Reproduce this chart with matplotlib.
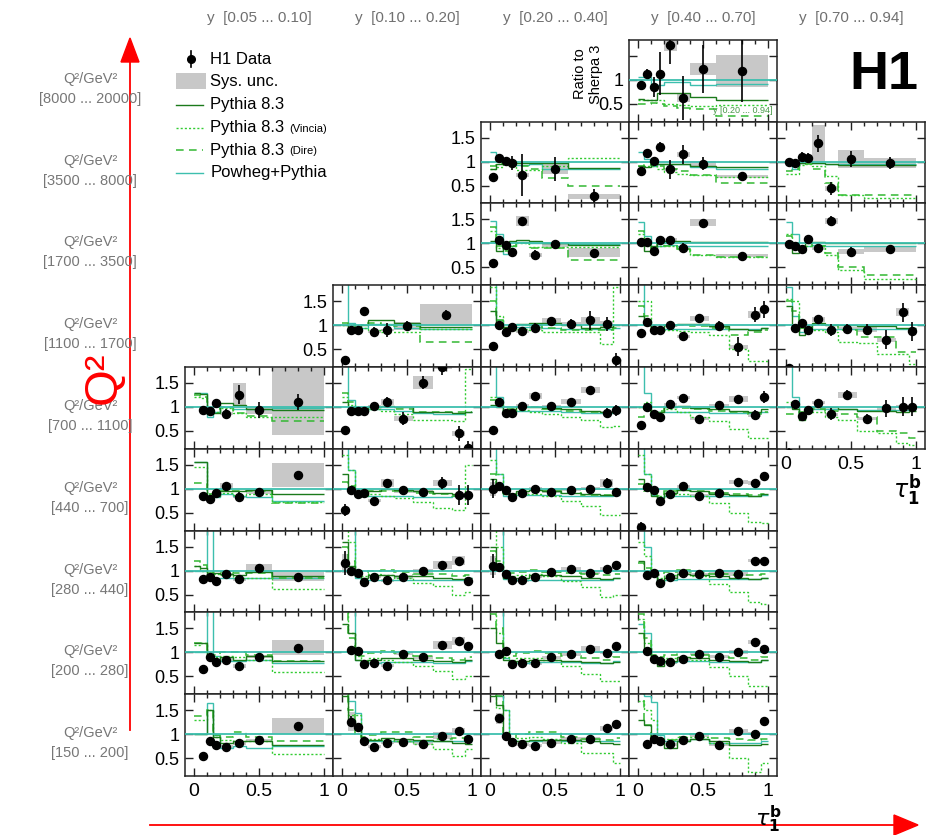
import numpy as np
import matplotlib
matplotlib.use("Agg")
import matplotlib.pyplot as plt
from matplotlib.patches import Rectangle, Polygon
from matplotlib.lines import Line2D

plt.rcParams['font.family'] = ['Liberation Sans', 'DejaVu Sans']
plt.rcParams['mathtext.fontset'] = 'dejavusans'

nan = np.nan

# tau_1^b bin edges (coarse and fine binning)
edges_coarse = [0.0, 0.05, 0.1, 0.15, 0.2, 0.3, 0.4, 0.6, 1.0]
edges_fine = [0.0, 0.05, 0.1, 0.15, 0.2, 0.3, 0.4, 0.55, 0.7, 0.85, 0.95, 1.0]

y_bins = ["y  [0.05 ... 0.10]", "y  [0.10 ... 0.20]", "y  [0.20 ... 0.40]",
          "y  [0.40 ... 0.70]", "y  [0.70 ... 0.94]"]
q2_bins = ["[8000 ... 20000]", "[3500 ... 8000]", "[1700 ... 3500]", "[1100 ... 1700]",
           "[700 ... 1100]", "[440 ... 700]", "[280 ... 440]", "[200 ... 280]", "[150 ... 200]"]

# (Q2 row, y column, binning)
panels = [(0, 3, 'c'),
          (1, 2, 'c'), (1, 3, 'c'), (1, 4, 'c'),
          (2, 2, 'c'), (2, 3, 'c'), (2, 4, 'c'),
          (3, 1, 'c'), (3, 2, 'f'), (3, 3, 'f'), (3, 4, 'f'),
          (4, 0, 'c'), (4, 1, 'f'), (4, 2, 'f'), (4, 3, 'f'), (4, 4, 'f'),
          (5, 0, 'c'), (5, 1, 'f'), (5, 2, 'f'), (5, 3, 'f'),
          (6, 0, 'c'), (6, 1, 'f'), (6, 2, 'f'), (6, 3, 'f'),
          (7, 0, 'c'), (7, 1, 'f'), (7, 2, 'f'), (7, 3, 'f'),
          (8, 0, 'c'), (8, 1, 'f'), (8, 2, 'f'), (8, 3, 'f')]

h1_data = [
    [0.9, 1.13, 0.85, 1.13, 1.72, 0.62, 1.22, 1.19],
    [0.68, 1.07, 1.01, 0.97, 0.72, nan, 0.85, 0.28],
    [0.81, 1.17, 1.01, 1.31, 0.84, 1.15, 0.96, 0.69],
    [1.0, 0.98, 1.1, 1.07, 1.38, 0.44, 1.05, 0.97],
    [0.6, 1.07, 0.97, 0.83, 1.47, 0.76, 0.98, 0.81],
    [1.03, 1.02, 0.84, 1.08, 1.08, 0.91, 1.43, 0.74],
    [0.98, 0.94, 0.875, 1.1, 0.91, 1.47, 0.83, 0.875],
    [0.28, 0.91, 0.91, 1.29, 0.86, 0.9, 0.98, 1.22],
    [0.56, 1.01, 0.85, 0.97, 0.875, 0.94, 1.08, 1.03, 1.1, 1.03, 0.28],
    [0.84, 1.06, 0.91, 0.9, 1.0, 0.77, 1.14, 0.98, 0.55, 1.22, 1.33],
    [0.1, 0.94, 1.05, 0.91, 1.12, 0.9, 0.93, 0.91, 0.7, 1.27, 0.875],
    [nan, 0.93, 0.92, 1.08, 0.86, 1.26, 0.94, 1.11],
    [0.52, 0.92, 0.92, 0.92, 1.02, 1.11, 0.76, 1.51, 1.84, 0.45, 0.15],
    [0.53, 1.11, 0.87, 0.87, 1.03, 1.23, 1.02, 1.11, 1.35, 0.88, 0.93],
    [0.62, 1.0, 0.85, 0.8, 1.06, 1.19, 0.76, 1.04, 1.16, 0.83, 1.21],
    [0.05, 1.06, 0.81, 0.93, 1.09, 0.85, 1.25, 0.76, 0.97, 1.01, 1.01],
    [nan, 0.85, 0.79, 0.91, 1.06, 0.83, 0.93, 1.28],
    [0.56, 0.97, 0.89, 0.92, 0.75, 1.12, 0.97, 0.94, 1.12, 0.87, 0.87],
    [1.0, 1.05, 0.97, 0.83, 0.92, 1.0, 0.94, 0.98, 1.0, 1.12, 0.93],
    [0.2, 1.03, 0.97, 0.74, 0.9, 1.05, 0.86, 0.91, 1.15, 1.12, 1.26],
    [nan, 0.83, 0.875, 0.79, 0.92, 0.82, 1.05, 0.875],
    [1.15, 1.0, 0.94, 0.76, 0.875, 0.8, 0.875, 0.99, 1.12, 1.21, 0.78],
    [1.1, 1.08, 0.93, 0.8, 0.8, 0.875, 0.98, 1.03, 0.96, 1.03, 1.12],
    [nan, 0.9, 0.96, 0.74, 0.875, 0.94, 0.93, 0.94, 0.93, 1.21, 1.21],
    [nan, 0.65, 0.91, 0.81, 0.85, 0.72, 0.91, 1.1],
    [nan, 1.06, 1.03, 0.76, 0.78, 0.72, 0.97, 0.9, 1.15, 1.24, 1.14],
    [nan, 0.97, 1.03, 0.76, 0.78, 0.77, 0.9, 0.96, 1.08, 0.99, 1.13],
    [nan, 1.03, 0.87, 0.83, 0.79, 0.86, 0.97, 0.91, 1.0, 1.22, 1.08],
    [nan, 0.55, 0.86, 0.77, 0.74, 0.81, 0.87, 1.17],
    [nan, 1.26, 1.14, 0.86, 0.74, 0.82, 0.84, 0.8, 0.97, 1.07, 0.91],
    [nan, 1.33, 0.96, 0.84, 0.79, 0.76, 0.82, 0.91, 0.91, 1.12, 1.21],
    [nan, 0.79, 0.9, 0.85, 0.79, 0.87, 0.97, 0.78, 1.06, 1.01, 1.27],
]

stat_err = [
    [0.05, 0.1, 0.2, 0.45, 0.4, 0.45, 0.5, 0.65],
    [0.05, 0.07, 0.08, 0.15, 0.43, 0, 0.25, 0.15],
    [0.05, 0.06, 0.07, 0.1, 0.2, 0.2, 0.13, 0.1],
    [0.05, 0.05, 0.1, 0.1, 0.17, 0.13, 0.17, 0.13],
    [0.04, 0.06, 0.06, 0.06, 0.08, 0.1, 0.1, 0.08],
    [0.04, 0.05, 0.05, 0.06, 0.07, 0.1, 0.08, 0.05],
    [0.04, 0.05, 0.05, 0.06, 0.08, 0.1, 0.1, 0.1],
    [0.05, 0.05, 0.05, 0.05, 0.1, 0.15, 0.1, 0.1],
    [0.05, 0.06, 0.06, 0.06, 0.08, 0.1, 0.1, 0.1, 0.2, 0.15, 0.15],
    [0.07, 0.06, 0.06, 0.06, 0.08, 0.08, 0.08, 0.1, 0.2, 0.15, 0.18],
    [0.1, 0.08, 0.08, 0.08, 0.1, 0.12, 0.1, 0.12, 0.2, 0.2, 0.2],
    [0, 0.04, 0.04, 0.05, 0.1, 0.2, 0.17, 0.17],
    [0.05, 0.04, 0.04, 0.04, 0.06, 0.1, 0.13, 0.13, 0.18, 0.15, 0.15],
    [0.06, 0.05, 0.04, 0.04, 0.05, 0.08, 0.06, 0.06, 0.08, 0.1, 0.12],
    [0.06, 0.05, 0.04, 0.04, 0.05, 0.06, 0.06, 0.06, 0.08, 0.1, 0.12],
    [0.1, 0.08, 0.05, 0.06, 0.08, 0.12, 0.1, 0.1, 0.17, 0.2, 0.2],
    [0, 0.04, 0.04, 0.04, 0.06, 0.1, 0.08, 0.1],
    [0.12, 0.05, 0.04, 0.04, 0.04, 0.08, 0.06, 0.06, 0.12, 0.2, 0.2],
    [0.2, 0.05, 0.04, 0.04, 0.04, 0.05, 0.05, 0.05, 0.08, 0.1, 0.08],
    [0.1, 0.05, 0.04, 0.04, 0.04, 0.05, 0.05, 0.05, 0.08, 0.08, 0.1],
    [0, 0.03, 0.03, 0.03, 0.04, 0.04, 0.05, 0.05],
    [0.25, 0.05, 0.04, 0.04, 0.04, 0.04, 0.04, 0.05, 0.06, 0.07, 0.07],
    [0.25, 0.05, 0.04, 0.03, 0.03, 0.04, 0.04, 0.04, 0.05, 0.05, 0.05],
    [0, 0.04, 0.04, 0.03, 0.03, 0.03, 0.04, 0.04, 0.07, 0.05, 0.05],
    [0, 0.03, 0.03, 0.03, 0.03, 0.04, 0.04, 0.04],
    [0, 0.05, 0.04, 0.03, 0.03, 0.03, 0.04, 0.04, 0.05, 0.06, 0.06],
    [0, 0.04, 0.04, 0.03, 0.03, 0.03, 0.03, 0.03, 0.04, 0.05, 0.05],
    [0, 0.05, 0.03, 0.03, 0.03, 0.03, 0.03, 0.03, 0.04, 0.04, 0.04],
    [0, 0.06, 0.03, 0.03, 0.03, 0.03, 0.03, 0.04],
    [0, 0.12, 0.05, 0.03, 0.03, 0.03, 0.03, 0.03, 0.05, 0.06, 0.06],
    [0, 0.1, 0.04, 0.03, 0.03, 0.03, 0.03, 0.03, 0.03, 0.04, 0.04],
    [0, 0.08, 0.03, 0.03, 0.03, 0.03, 0.03, 0.03, 0.03, 0.03, 0.04],
]

sys_err = [
    [0.03, 0.03, 0.06, 0.03, 0.12, 0.08, 0.12, 0.33],
    [0.03, 0.04, 0.04, 0.03, 0.05, 0, 0.1, 0.05],
    [0.03, 0.03, 0.04, 0.07, 0.03, 0.06, 0.05, 0.04],
    [0.03, 0.03, 0.03, 0.03, 0.38, 0.05, 0.19, 0.1],
    [0.03, 0.03, 0.04, 0.04, 0.11, 0.04, 0.05, 0.09],
    [0.03, 0.03, 0.03, 0.06, 0.04, 0.04, 0.07, 0.03],
    [0.03, 0.03, 0.03, 0.05, 0.04, 0.06, 0.06, 0.06],
    [0.03, 0.03, 0.03, 0.06, 0.03, 0.03, 0.08, 0.23],
    [0.03, 0.03, 0.03, 0.03, 0.03, 0.04, 0.06, 0.04, 0.07, 0.06, 0.03],
    [0.03, 0.03, 0.03, 0.03, 0.03, 0.03, 0.05, 0.03, 0.04, 0.08, 0.04],
    [0.03, 0.03, 0.03, 0.03, 0.05, 0.03, 0.03, 0.06, 0.04, 0.08, 0.03],
    [0, 0.03, 0.03, 0.03, 0.03, 0.24, 0.08, 0.7],
    [0.03, 0.03, 0.03, 0.03, 0.03, 0.06, 0.06, 0.13, 0.05, 0.05, 0.03],
    [0.03, 0.03, 0.03, 0.03, 0.03, 0.06, 0.03, 0.05, 0.06, 0.03, 0.03],
    [0.03, 0.03, 0.03, 0.03, 0.03, 0.03, 0.04, 0.03, 0.06, 0.03, 0.03],
    [0.03, 0.03, 0.03, 0.03, 0.03, 0.03, 0.06, 0.03, 0.03, 0.03, 0.03],
    [0, 0.04, 0.03, 0.03, 0.07, 0.03, 0.03, 0.25],
    [0.03, 0.03, 0.03, 0.03, 0.03, 0.08, 0.05, 0.03, 0.07, 0.03, 0.03],
    [0.15, 0.03, 0.03, 0.03, 0.03, 0.03, 0.03, 0.03, 0.03, 0.08, 0.03],
    [0.03, 0.03, 0.03, 0.03, 0.03, 0.03, 0.04, 0.03, 0.04, 0.04, 0.03],
    [0, 0.03, 0.03, 0.03, 0.03, 0.03, 0.08, 0.1],
    [0.2, 0.03, 0.03, 0.03, 0.03, 0.03, 0.04, 0.05, 0.08, 0.1, 0.03],
    [0.2, 0.03, 0.03, 0.03, 0.03, 0.03, 0.03, 0.04, 0.03, 0.04, 0.03],
    [0, 0.03, 0.03, 0.03, 0.03, 0.03, 0.03, 0.03, 0.04, 0.03, 0.03],
    [0, 0.04, 0.03, 0.03, 0.03, 0.04, 0.03, 0.15],
    [0, 0.04, 0.03, 0.03, 0.03, 0.03, 0.03, 0.03, 0.08, 0.08, 0.04],
    [0, 0.04, 0.03, 0.03, 0.03, 0.03, 0.03, 0.03, 0.05, 0.03, 0.03],
    [0, 0.03, 0.03, 0.03, 0.03, 0.03, 0.03, 0.03, 0.04, 0.04, 0.03],
    [0, 0.06, 0.03, 0.03, 0.03, 0.03, 0.03, 0.17],
    [0, 0.2, 0.03, 0.03, 0.03, 0.03, 0.03, 0.03, 0.07, 0.06, 0.03],
    [0, 0.12, 0.03, 0.03, 0.03, 0.03, 0.03, 0.03, 0.03, 0.06, 0.03],
    [0, 0.03, 0.03, 0.03, 0.03, 0.03, 0.03, 0.03, 0.05, 0.03, 0.03],
]

pythia = [
    [0.6, 0.58, 0.58, 0.72, 0.72, 0.72, 0.65, 0.58],
    [0.85, 0.95, 1.02, 1.02, 0.97, 0.97, 0.97, 0.87],
    [0.9, 0.88, 0.95, 0.95, 0.95, 0.95, 0.9, 0.88],
    [0.95, 0.92, 0.98, 1.0, 0.97, 0.95, 0.93, 0.93],
    [1.05, 0.85, 0.9, 1.05, 1.08, 1.05, 1.0, 0.97],
    [1.0, 0.85, 0.95, 1.0, 1.05, 1.05, 1.02, 1.02],
    [1.0, 0.8, 0.82, 1.0, 1.02, 1.0, 1.0, 1.0],
    [1.0, 0.95, 0.88, 1.0, 1.1, 1.1, 1.05, 0.96],
    [1.3, 1.05, 0.97, 1.0, 1.02, 1.05, 1.05, 1.0, 0.95, 0.97, 1.0],
    [1.2, 1.0, 0.9, 0.95, 1.0, 1.02, 1.02, 0.98, 0.92, 0.9, 0.95],
    [1.4, 0.95, 0.8, 0.95, 1.05, 1.0, 1.0, 0.98, 0.98, 0.95, 0.95],
    [1.3, 1.28, 0.85, 0.88, 1.08, 1.05, 0.95, 0.93],
    [1.1, 1.0, 0.95, 0.95, 1.0, 1.02, 1.0, 0.9, 0.9, 0.88, 0.9],
    [1.05, 1.0, 0.92, 0.95, 1.0, 1.0, 0.98, 0.95, 0.92, 0.9, 0.95],
    [1.0, 0.95, 0.85, 0.9, 1.0, 1.02, 0.98, 0.95, 0.92, 0.9, 0.95],
    [1.0, 0.95, 0.72, 0.9, 1.0, 1.0, 0.95, 0.92, 0.92, 0.9, 0.92],
    [1.55, 1.55, 0.85, 0.85, 0.95, 0.95, 0.97, 0.9],
    [1.3, 1.0, 0.88, 0.88, 0.95, 1.0, 0.98, 0.95, 0.92, 0.9, 0.9],
    [1.2, 1.0, 0.9, 0.9, 0.95, 0.98, 0.95, 0.92, 0.9, 0.88, 0.92],
    [1.2, 1.0, 0.85, 0.8, 0.92, 0.98, 0.95, 0.9, 0.88, 0.86, 0.9],
    [1.1, 1.05, 0.88, 0.95, 0.92, 0.9, 0.97, 0.88],
    [1.6, 1.1, 0.88, 0.85, 0.9, 0.9, 0.88, 0.88, 0.85, 0.82, 0.85],
    [1.5, 1.1, 0.85, 0.82, 0.85, 0.9, 0.9, 0.88, 0.85, 0.82, 0.85],
    [1.2, 1.0, 0.9, 0.75, 0.85, 0.92, 0.9, 0.88, 0.85, 0.82, 0.85],
    [1.2, 1.2, 0.92, 0.82, 0.9, 0.85, 0.92, 0.82],
    [1.6, 1.4, 0.85, 0.8, 0.85, 0.88, 0.88, 0.85, 0.82, 0.8, 0.85],
    [1.5, 1.2, 0.85, 0.78, 0.82, 0.85, 0.85, 0.82, 0.8, 0.78, 0.8],
    [1.4, 1.1, 0.85, 0.72, 0.82, 0.9, 0.88, 0.85, 0.82, 0.8, 0.85],
    [1.0, 1.0, 1.5, 0.95, 0.82, 0.85, 0.85, 0.78],
    [1.8, 1.3, 1.1, 0.88, 0.88, 0.92, 0.9, 0.88, 0.85, 0.82, 0.8],
    [1.8, 1.6, 0.95, 0.85, 0.85, 0.88, 0.88, 0.88, 0.85, 0.82, 0.8],
    [1.3, 1.2, 0.95, 0.85, 0.72, 0.85, 0.9, 0.85, 0.78, 0.78, 0.8],
]

vincia = [
    [0.57, 0.57, 0.57, 0.57, 0.5, 0.48, 0.45, 0.48],
    [0.85, 0.88, 0.95, 0.9, 0.82, 0.82, 0.9, 1.07],
    [0.85, 0.9, 0.9, 0.85, 0.78, 0.75, 0.72, 0.68],
    [0.75, 0.75, 0.92, 0.95, 0.9, 0.7, 0.3, 0.25],
    [1.25, 0.9, 0.88, 0.95, 1.0, 0.93, 0.93, 0.92],
    [1.2, 0.95, 0.9, 0.95, 0.95, 0.88, 0.75, 0.72],
    [1.2, 0.95, 0.88, 0.95, 0.95, 0.75, 0.45, 0.25],
    [1.0, 0.95, 0.9, 0.95, 0.9, 0.85, 0.85, 0.93],
    [1.8, 1.2, 0.95, 0.9, 0.93, 0.9, 0.85, 0.85, 0.85, 0.6, 1.8],
    [1.5, 1.5, 0.95, 0.9, 0.9, 0.88, 0.85, 0.8, 0.5, 0.25, 0.25],
    [1.55, 1.5, 0.95, 0.92, 0.9, 0.85, 0.65, 0.62, 0.4, 0.4, 0.2],
    [1.2, 1.18, 0.9, 0.9, 0.98, 0.88, 0.8, 0.8],
    [1.2, 1.05, 0.92, 0.9, 0.95, 0.92, 0.85, 0.72, 0.72, 0.7, 1.8],
    [1.2, 1.1, 0.9, 0.9, 0.93, 0.9, 0.85, 0.8, 0.72, 0.58, 0.6],
    [1.0, 1.1, 0.9, 0.9, 0.95, 0.9, 0.8, 0.7, 0.55, 0.35, 0.35],
    [1.1, 1.0, 0.88, 0.88, 0.9, 0.8, 0.72, 0.5, 0.45, 0.25, 0.2],
    [1.45, 1.45, 0.9, 0.88, 0.92, 0.88, 0.9, 0.72],
    [1.7, 1.4, 0.9, 0.85, 0.9, 0.85, 0.8, 0.72, 0.6, 0.55, 1.5],
    [1.6, 1.3, 0.92, 0.85, 0.9, 0.9, 0.85, 0.75, 0.65, 0.45, 0.45],
    [1.7, 1.3, 0.92, 0.85, 0.9, 0.9, 0.85, 0.7, 0.5, 0.3, 0.28],
    [1.1, 1.0, 0.9, 0.92, 0.9, 0.85, 0.85, 0.62],
    [2.5, 1.6, 0.95, 0.88, 0.92, 0.9, 0.85, 0.75, 0.68, 0.5, 0.55],
    [2.5, 1.5, 0.95, 0.88, 0.9, 0.92, 0.88, 0.78, 0.65, 0.45, 0.5],
    [1.6, 1.3, 0.95, 0.85, 0.9, 0.92, 0.88, 0.72, 0.55, 0.35, 0.3],
    [1.15, 1.2, 0.95, 0.9, 0.92, 0.9, 0.85, 0.6],
    [2.5, 1.4, 0.92, 0.85, 0.88, 0.85, 0.8, 0.72, 0.62, 0.45, 0.5],
    [2.0, 1.4, 0.9, 0.85, 0.88, 0.88, 0.85, 0.72, 0.55, 0.4, 0.4],
    [1.7, 1.2, 0.92, 0.85, 0.88, 0.9, 0.85, 0.7, 0.5, 0.3, 0.3],
    [1.3, 1.3, 1.5, 0.95, 0.88, 0.85, 0.85, 0.58],
    [2.5, 1.4, 1.4, 0.9, 0.9, 0.88, 0.85, 0.8, 0.7, 0.55, 0.7],
    [2.5, 1.55, 1.5, 0.9, 0.92, 0.95, 0.9, 0.82, 0.6, 0.6, 0.4],
    [1.7, 1.5, 1.3, 0.9, 0.9, 0.95, 0.95, 0.82, 0.5, 0.22, 0.4],
]

dire = [
    [0.5, 0.5, 0.52, 0.5, 0.45, 0.42, 0.4, 0.24],
    [0.9, 0.95, 1.0, 1.0, 0.9, 0.85, 0.65, 0.5],
    [0.9, 0.92, 0.95, 0.9, 0.85, 0.8, 0.72, 0.55],
    [0.8, 0.85, 0.95, 0.95, 0.85, 0.55, 0.3, 0.3],
    [1.35, 0.95, 0.85, 0.95, 1.0, 0.9, 0.9, 0.65],
    [1.25, 1.0, 0.88, 1.0, 0.95, 0.88, 0.75, 0.72],
    [1.15, 1.0, 0.9, 1.0, 0.95, 0.8, 0.5, 0.35],
    [1.05, 1.0, 0.9, 1.0, 1.05, 1.0, 0.98, 0.65],
    [1.5, 1.1, 0.95, 0.95, 1.0, 1.0, 0.95, 0.9, 0.9, 0.9, 0.95],
    [1.4, 1.2, 0.95, 0.92, 1.0, 1.0, 0.98, 0.95, 0.8, 0.85, 0.9],
    [1.5, 1.3, 0.95, 0.95, 1.0, 1.0, 0.9, 0.75, 0.75, 0.45, 0.45],
    [1.25, 1.2, 0.95, 0.95, 1.0, 0.88, 0.82, 0.7],
    [1.3, 1.1, 0.95, 0.92, 1.0, 1.0, 0.95, 0.9, 0.9, 0.9, 0.9],
    [1.15, 1.05, 0.95, 0.95, 1.0, 1.0, 0.95, 0.92, 0.9, 0.88, 0.92],
    [0.8, 1.0, 0.9, 0.92, 1.0, 0.98, 0.95, 0.92, 0.9, 0.85, 0.9],
    [0.85, 0.85, 0.9, 0.92, 0.95, 0.92, 0.85, 0.8, 0.5, 0.45, 0.35],
    [1.12, 1.12, 0.9, 0.92, 0.95, 0.95, 0.95, 0.7],
    [1.15, 1.05, 0.9, 0.9, 0.95, 0.95, 0.95, 0.92, 0.9, 0.85, 0.9],
    [1.3, 1.1, 0.92, 0.9, 0.95, 0.98, 0.95, 0.92, 0.88, 0.88, 0.92],
    [1.1, 0.95, 0.9, 0.85, 0.95, 0.98, 0.95, 0.92, 0.9, 0.88, 0.9],
    [1.2, 1.12, 0.95, 0.98, 0.97, 0.95, 0.95, 0.85],
    [1.5, 1.2, 0.95, 0.95, 1.0, 1.02, 0.98, 0.92, 0.92, 0.88, 0.9],
    [1.4, 1.2, 0.95, 0.95, 0.98, 1.02, 0.98, 0.95, 0.92, 0.9, 0.92],
    [1.15, 1.05, 0.92, 0.9, 0.98, 1.02, 0.98, 0.92, 0.9, 0.9, 0.92],
    [1.2, 1.2, 0.95, 0.95, 1.0, 1.0, 0.95, 0.82],
    [2.5, 1.3, 0.95, 0.92, 0.98, 1.02, 0.98, 0.92, 0.88, 0.85, 0.9],
    [1.8, 1.5, 0.95, 0.92, 0.98, 1.02, 0.98, 0.92, 0.88, 0.85, 0.9],
    [1.8, 1.3, 0.95, 0.9, 0.95, 1.0, 0.95, 0.9, 0.88, 0.85, 0.9],
    [1.38, 1.38, 1.5, 0.98, 0.95, 1.05, 0.95, 0.85],
    [2.5, 1.5, 1.0, 0.95, 0.98, 1.05, 1.05, 0.95, 0.9, 0.92, 0.95],
    [2.5, 1.8, 1.0, 0.9, 1.0, 1.05, 1.05, 0.95, 0.9, 0.88, 0.92],
    [1.85, 1.2, 0.95, 0.9, 0.88, 0.95, 1.0, 0.92, 0.9, 0.88, 0.9],
]

powheg = [
    [1.05, 1.05, 0.88, 0.9, 0.95, 0.95, 0.9, 0.92],
    [1.2, 1.1, 0.95, 0.95, 0.92, 0.95, 0.85, 0.85],
    [1.2, 1.05, 0.9, 0.95, 0.95, 0.95, 0.88, 0.85],
    [1.0, 0.85, 0.98, 1.0, 0.97, 0.95, 0.95, 0.95],
    [1.47, 1.2, 0.78, 0.95, 1.02, 1.0, 1.0, 0.98],
    [1.45, 1.15, 0.9, 0.95, 0.97, 0.95, 0.95, 0.95],
    [1.45, 1.2, 0.85, 0.95, 0.97, 0.95, 0.95, 0.95],
    [2.5, 1.05, 0.85, 0.95, 1.02, 1.02, 0.95, 0.92],
    [2.5, 1.1, 0.9, 0.95, 0.97, 0.97, 0.95, 0.93, 0.93, 0.93, 0.95],
    [2.5, 1.1, 0.85, 0.9, 0.93, 0.93, 0.93, 0.92, 0.92, 0.92, 0.95],
    [1.8, 1.2, 0.85, 0.9, 0.93, 0.93, 0.93, 0.92, 0.92, 0.92, 0.92],
    [1.3, 1.3, 0.8, 0.9, 1.0, 0.95, 0.95, 0.98],
    [2.5, 1.15, 0.85, 0.92, 0.95, 0.95, 0.92, 0.88, 0.85, 0.85, 0.9],
    [2.5, 1.2, 0.85, 0.9, 0.92, 0.92, 0.92, 0.9, 0.88, 0.88, 0.9],
    [2.5, 1.3, 0.85, 0.9, 0.9, 0.9, 0.9, 0.88, 0.88, 0.88, 0.9],
    [2.5, 1.2, 0.85, 0.9, 0.95, 0.95, 0.95, 0.93, 0.93, 0.93, 0.95],
    [1.55, 1.55, 0.8, 0.82, 0.9, 0.85, 0.82, 0.75],
    [2.5, 1.4, 0.85, 0.85, 0.85, 0.85, 0.85, 0.82, 0.82, 0.85, 0.85],
    [2.5, 1.3, 0.85, 0.85, 0.88, 0.88, 0.88, 0.85, 0.85, 0.85, 0.88],
    [2.5, 1.3, 0.88, 0.82, 0.85, 0.85, 0.85, 0.85, 0.85, 0.85, 0.88],
    [1.0, 1.0, 1.9, 0.85, 0.85, 0.85, 0.85, 0.85],
    [2.5, 2.5, 0.85, 0.8, 0.8, 0.8, 0.8, 0.8, 0.8, 0.8, 0.85],
    [2.5, 2.5, 0.82, 0.8, 0.8, 0.8, 0.8, 0.8, 0.8, 0.8, 0.85],
    [2.5, 1.5, 0.88, 0.78, 0.8, 0.82, 0.82, 0.82, 0.82, 0.82, 0.85],
    [1.0, 1.0, 2.0, 0.92, 0.82, 0.82, 0.85, 0.78],
    [2.5, 2.5, 0.85, 0.78, 0.78, 0.8, 0.8, 0.8, 0.78, 0.78, 0.82],
    [2.5, 1.9, 0.88, 0.78, 0.78, 0.8, 0.8, 0.8, 0.78, 0.78, 0.82],
    [1.6, 1.4, 0.92, 0.8, 0.8, 0.82, 0.82, 0.8, 0.8, 0.8, 0.85],
    [1.0, 1.0, 1.65, 0.98, 0.72, 0.75, 0.72, 0.75],
    [2.5, 1.7, 1.45, 0.9, 0.85, 0.85, 0.85, 0.85, 0.85, 0.85, 0.85],
    [2.5, 1.8, 1.5, 0.88, 0.85, 0.85, 0.88, 0.85, 0.85, 0.85, 0.85],
    [1.85, 1.8, 1.67, 0.98, 0.85, 0.85, 0.9, 0.82, 0.82, 0.82, 0.85],
]

# colours
c_pythia = '#1b7a1b'
c_vincia = '#33cc33'
c_dire = '#33b833'
c_powheg = '#3dbfae'
c_sys = '#c8c8c8'

W, H = 926.0, 835.0
fig = plt.figure(figsize=(W / 100, H / 100), dpi=100)

col_left = [185, 333, 481, 629, 777]
col_w = 148
row_top = 39.8
row_h = 81.8
first_col = {0: 3, 1: 2, 2: 2, 3: 1, 4: 0, 5: 0, 6: 0, 7: 0, 8: 0}

for i, (r, c, b) in enumerate(panels):
    top = row_top + r * row_h
    ax = fig.add_axes([col_left[c] / W, 1 - (top + row_h) / H, col_w / W, row_h / H])
    edges = np.array(edges_coarse if b == 'c' else edges_fine)
    centres = 0.5 * (edges[1:] + edges[:-1])
    vals = np.array(h1_data[i], dtype=float)
    syst = np.array(sys_err[i], dtype=float)

    for x0, x1, v, s in zip(edges[:-1], edges[1:], vals, syst):
        if np.isfinite(v) and s > 0:
            ax.add_patch(Rectangle((x0, v - s), x1 - x0, 2 * s, facecolor=c_sys,
                                   edgecolor='none', zorder=1))

    ax.stairs(powheg[i], edges, baseline=None, color=c_powheg, lw=1.0, zorder=2)
    ax.stairs(dire[i], edges, baseline=None, color=c_dire, lw=1.1,
              linestyle=(0, (5, 3.5)), zorder=2)
    ax.stairs(vincia[i], edges, baseline=None, color=c_vincia, lw=1.0,
              linestyle=(0, (1.5, 1.5)), zorder=2)
    ax.stairs(pythia[i], edges, baseline=None, color=c_pythia, lw=1.0, zorder=3)
    ax.axhline(1, color=c_powheg, lw=1.3, zorder=3)
    ax.errorbar(centres, vals, yerr=stat_err[i], fmt='o', color='k', ms=5.8,
                elinewidth=1.2, capsize=0, zorder=5)

    ax.set_xlim(-0.0654, 1.073)
    ax.set_ylim(0.129, 1.833)
    ax.set_xticks([0, 0.5, 1])
    ax.set_xticks(np.arange(0.1, 1.0, 0.1), minor=True)
    ax.set_yticks([0.5, 1, 1.5])
    ax.set_xticklabels(['0', '0.5', '1'])
    if r == 0:
        ax.set_yticklabels(['0.5', '1', ''])
    else:
        ax.set_yticklabels(['0.5', '1', '1.5'])
    ax.tick_params(which='both', direction='in', top=True, right=True, width=1,
                   color='#222222')
    ax.tick_params(which='major', length=5.5)
    ax.tick_params(which='minor', length=3.2)
    ax.tick_params(axis='x', labelsize=14, pad=5,
                   labelbottom=(r == 8 or (r == 4 and c == 4)))
    ax.tick_params(axis='y', labelsize=13, pad=4, labelleft=(c == first_col[r]))
    for sp in ax.spines.values():
        sp.set_linewidth(1.1)
        sp.set_color('#222222')
    if r == 0:
        ax.text(0.97, 0.08, 'y [0.20 ... 0.94]', transform=ax.transAxes, ha='right',
                va='bottom', fontsize=6.5, color='#4a9a4a', zorder=6)

# overlay in pixel coordinates for labels, legend and arrows
ov = fig.add_axes([0, 0, 1, 1], zorder=10)
ov.set_xlim(0, W)
ov.set_ylim(H, 0)
ov.axis('off')
ov.patch.set_alpha(0)

for c, lab in enumerate(y_bins):
    ov.text(col_left[c] + col_w / 2, 18, lab, color='#707070', fontsize=11,
            ha='center', va='center')

for r, lab in enumerate(q2_bins):
    yc = row_top + r * row_h + 41
    ov.text(90, yc - 2, 'Q²/GeV²', color='#777777', fontsize=10.5, ha='center', va='center')
    ov.text(90, yc + 18, lab, color='#777777', fontsize=10.5, ha='center', va='center')

# legend
fs = 12
ov.plot([190.5, 190.5], [51, 67], color='k', lw=1.2)
ov.plot([190.5], [59], 'o', color='k', ms=5.5)
ov.text(210.5, 59, 'H1 Data', fontsize=fs, va='center')
ov.add_patch(Rectangle((176, 73), 30, 16, facecolor=c_sys, edgecolor='none'))
ov.text(210.5, 81.5, 'Sys. unc.', fontsize=fs, va='center')
ov.add_line(Line2D([176, 203], [105, 105], color=c_pythia, lw=1.0))
ov.text(210.5, 105, 'Pythia 8.3', fontsize=fs, va='center')
ov.add_line(Line2D([176, 203], [127.5, 127.5], color=c_vincia, lw=1.0,
                   linestyle=(0, (1.5, 1.5))))
t = ov.text(210.5, 127.5, 'Pythia 8.3', fontsize=fs, va='center')
ov.annotate('(Vincia)', xy=(1, 0), xycoords=t, xytext=(3, 1), textcoords='offset points',
            fontsize=8, va='bottom')
ov.add_line(Line2D([176, 203], [150, 150], color=c_dire, lw=1.1, linestyle=(0, (5, 3.5))))
t = ov.text(210.5, 150, 'Pythia 8.3', fontsize=fs, va='center')
ov.annotate('(Dire)', xy=(1, 0), xycoords=t, xytext=(3, 1), textcoords='offset points',
            fontsize=8, va='bottom')
ov.add_line(Line2D([176, 203], [172.5, 172.5], color=c_powheg, lw=1.0))
ov.text(210.5, 172.5, 'Powheg+Pythia', fontsize=fs, va='center')

ov.text(884, 75, 'H1', fontsize=39, fontweight='bold', ha='center', va='center')
ov.text(588, 74, 'Ratio to\nSherpa 3', rotation=90, ha='center', va='center',
        fontsize=10.5, linespacing=1.1)

tau = r'$\tau_{\mathbf{1}}^{\mathbf{b}}$'
ov.text(907, 490, tau, fontsize=17, ha='center', va='center')
ov.text(768, 819, tau, fontsize=16, ha='center', va='center')

# red axis arrows
ov.plot([130, 130], [730, 60], color='red', lw=1.3)
ov.add_patch(Polygon([[130, 38], [121, 62], [139, 62]], closed=True, color='red'))
ov.plot([150, 895], [825, 825], color='red', lw=1.3)
ov.add_patch(Polygon([[918, 825], [894, 815], [894, 835]], closed=True, color='red'))
ov.text(104, 378, 'Q²', rotation=90, color='red', fontsize=34, ha='center', va='center')

fig.savefig('out.png', dpi=100)
